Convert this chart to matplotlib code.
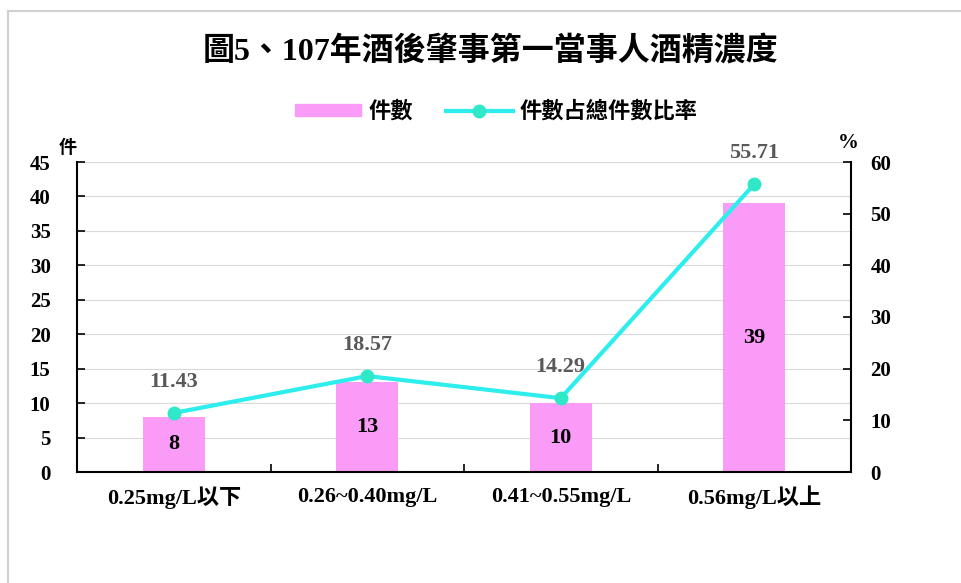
import matplotlib
matplotlib.use("Agg")
import matplotlib.pyplot as plt
from matplotlib.patches import Rectangle
from matplotlib.lines import Line2D
import numpy as np

categories = ["0.25mg/L以下", "0.26~0.40mg/L", "0.41~0.55mg/L", "0.56mg/L以上"]
counts = [8, 13, 10, 39]
rates = [11.43, 18.57, 14.29, 55.71]
left_ticks = [0, 5, 10, 15, 20, 25, 30, 35, 40, 45]
right_ticks = [0, 10, 20, 30, 40, 50, 60]

FAM = ["Liberation Serif", "Noto Sans CJK TC", "DejaVu Sans"]
plt.rcParams['font.family'] = FAM
plt.rcParams['font.weight'] = 'bold'

bar_color = "#FA9CF7"
line_color = "#2EEDED"
marker_color = "#2EE8C8"

fig = plt.figure(figsize=(9.62, 5.83), dpi=100)
# partial border (top and left)
fig.add_artist(Line2D([8/962, 8/962], [0, 1-11/583], transform=fig.transFigure,
                      color="#D0D0D0", linewidth=1.5))
fig.add_artist(Line2D([8/962, 1], [1-11/583, 1-11/583], transform=fig.transFigure,
                      color="#D0D0D0", linewidth=1.5))

ax = fig.add_axes([77/962, 1-472/583, (851-77)/962, (472-162)/583])
x = np.arange(len(categories))
ax.bar(x, counts, width=0.32, color=bar_color, zorder=2)
ax.set_xlim(-0.5, len(categories)-0.5)
ax.set_ylim(0, 45)
ax.set_yticks(left_ticks)
ax.set_yticklabels([str(t) for t in left_ticks], fontsize=15, fontweight='bold')
ax.yaxis.grid(True, color="#D9D9D9", linewidth=0.8, zorder=0)
ax.set_axisbelow(True)
ax.set_xticks([])
ax.set_xticks(np.arange(len(categories)+1)-0.5, minor=True)
ax.tick_params(axis='x', which='minor', direction='in', length=6, width=1.2)
for i, c in enumerate(categories):
    ax.text(i, -3.7, c, ha='center', va='center', fontsize=16, fontweight='bold', family=FAM)
ax.tick_params(axis='y', direction='in', length=6, width=1.2, pad=19)
for s in ['top', 'right']:
    ax.spines[s].set_visible(False)
ax.spines['left'].set_linewidth(1.5)
ax.spines['bottom'].set_linewidth(1.5)
for i, v in enumerate(counts):
    ax.text(i, v/2, str(v), ha='center', va='center',
            fontsize=16, fontweight='bold', color='black', zorder=5)

ax2 = ax.twinx()
ax2.set_ylim(0, 60)
ax2.set_yticks(right_ticks)
ax2.set_yticklabels([str(t) for t in right_ticks], fontsize=15, fontweight='bold')
ax2.tick_params(axis='y', direction='in', length=6, width=1.2, pad=14)
for s in ['top', 'left', 'bottom']:
    ax2.spines[s].set_visible(False)
ax2.spines['right'].set_linewidth(1.5)
ax2.plot(x, rates, color=line_color, linewidth=3, marker='o', markersize=9,
         markerfacecolor=marker_color, markeredgecolor=marker_color, zorder=4)
for i, r in enumerate(rates):
    ax2.text(i, r + 6.0, f"{r:.2f}", ha='center', va='center', fontsize=16,
             fontweight='bold', color='#595959')

fig.text(68/962, 1-148/583, "件", ha='center', va='center', fontsize=13, fontweight='bold', family=FAM)
fig.text(848/962, 1-143/583, "%", ha='center', va='center', fontsize=15, fontweight='bold', family=FAM)

fig.text(491/962, 1-52/583, "圖5、107年酒後肇事第一當事人酒精濃度", ha='center', va='center',
         fontsize=23, fontweight='bold', family=FAM)

handles = [Rectangle((0, 0), 1, 1, color=bar_color),
           Line2D([0], [0], color=line_color, linewidth=3, marker='o', markersize=9,
                  markerfacecolor=marker_color, markeredgecolor=marker_color)]
fig.legend(handles, ["件數", "件數占總件數比率"], loc='center', bbox_to_anchor=(496/962, 1-112/583),
           ncol=2, frameon=False, prop={'family': FAM, 'size': 16, 'weight': 'bold'},
           handlelength=3.0, handleheight=0.5, columnspacing=1.5, handletextpad=0.3)

fig.savefig("out.png", dpi=100)
